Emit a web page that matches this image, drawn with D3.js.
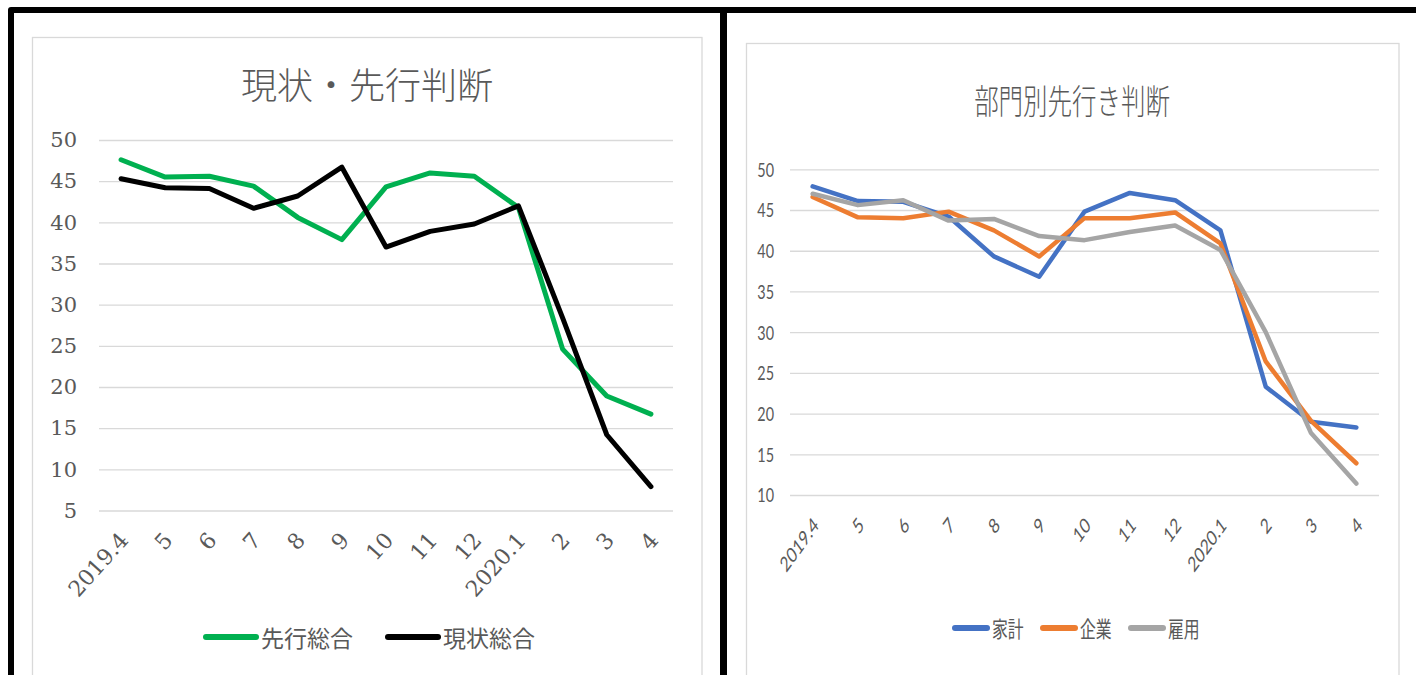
<!DOCTYPE html>
<html>
<head>
<meta charset="utf-8">
<script src="https://cdn.jsdelivr.net/npm/d3@7"></script>
<style>
  body { margin: 0; background: #fff; }
  svg { display: block; }
</style>
</head>
<body>
<svg id="chart" width="1416" height="675"></svg>
<script>
// Month labels shared by both panels
const months = ["2019.4", "5", "6", "7", "8", "9", "10", "11", "12", "2020.1", "2", "3", "4"];

// Left panel: overall diffusion indices
const leadingTotal = [47.6, 45.5, 45.6, 44.4, 40.6, 37.9, 44.3, 46.0, 45.6, 41.8, 24.6, 18.9, 16.7];
const currentTotal = [45.3, 44.2, 44.1, 41.7, 43.2, 46.7, 37.0, 38.9, 39.8, 42.0, 28.4, 14.2, 7.9];

// Right panel: outlook by sector
const household  = [47.9, 46.1, 46.0, 44.2, 39.3, 36.8, 44.8, 47.1, 46.2, 42.5, 23.3, 19.0, 18.3];
const business   = [46.6, 44.1, 44.0, 44.8, 42.5, 39.3, 44.0, 44.0, 44.7, 40.9, 26.4, 19.1, 13.9];
const employment = [47.0, 45.6, 46.2, 43.7, 43.9, 41.8, 41.3, 42.3, 43.1, 40.1, 30.0, 17.6, 11.4];

// Axis ticks
const leftTicks  = [5, 10, 15, 20, 25, 30, 35, 40, 45, 50];
const rightTicks = [10, 15, 20, 25, 30, 35, 40, 45, 50];

const svg = d3.select("#chart");
const textColor = "#595959";
const gridColor = "#D9D9D9";

// Chart-area borders
svg.append("rect").attr("x", 32.5).attr("y", 37.5).attr("width", 669.5).attr("height", 700)
  .attr("fill", "#fff").attr("stroke", gridColor).attr("stroke-width", 1.3);
svg.append("rect").attr("x", 746.5).attr("y", 43.5).attr("width", 652.5).attr("height", 700)
  .attr("fill", "#fff").attr("stroke", gridColor).attr("stroke-width", 1.3);

// ---------- Left panel ----------
{
  const x = d3.scalePoint().domain(months).range([99, 673]).padding(0.5);
  const y = d3.scaleLinear().domain([5, 50]).range([510.5, 140]);

  const g = svg.append("g");
  const yAxis = d3.axisLeft(y).tickValues(leftTicks).tickSize(-(673 - 99)).tickPadding(22);
  const ya = g.append("g").attr("transform", "translate(99,0)").call(yAxis);
  ya.select(".domain").remove();
  ya.selectAll(".tick line").attr("stroke", gridColor).attr("stroke-width", 1.3);
  ya.selectAll(".tick text").attr("fill", textColor)
    .attr("font-family", "'DejaVu Serif', 'Liberation Serif', serif").attr("font-size", 21);

  // rotated month labels
  g.selectAll(".xl").data(months).enter().append("text")
    .attr("transform", d => `translate(${x(d) + 3},536) rotate(-48)`)
    .attr("text-anchor", "end").attr("dominant-baseline", "central")
    .attr("fill", textColor)
    .attr("font-family", "'DejaVu Serif', 'Liberation Serif', serif").attr("font-size", 22)
    .text(d => d);

  const line = d3.line().x((d, i) => x(months[i])).y(d => y(d));
  const series = [
    { name: "先行総合", values: leadingTotal, color: "#00B050" },
    { name: "現状総合", values: currentTotal, color: "#000000" }
  ];
  series.forEach(s => {
    g.append("path").datum(s.values).attr("d", line)
      .attr("fill", "none").attr("stroke", s.color).attr("stroke-width", 5)
      .attr("stroke-linejoin", "round").attr("stroke-linecap", "round");
  });

  // legend
  const legendX = [203, 385];
  series.forEach((s, i) => {
    g.append("line").attr("x1", legendX[i] + 3).attr("x2", legendX[i] + 53)
      .attr("y1", 637).attr("y2", 637)
      .attr("stroke", s.color).attr("stroke-width", 6).attr("stroke-linecap", "round");
    g.append("text").attr("x", legendX[i] + 58).attr("y", 637)
      .attr("dominant-baseline", "central").attr("fill", textColor)
      .attr("font-family", "'Noto Sans CJK JP', sans-serif").attr("font-size", 23)
      .text(s.name);
  });

  // title
  g.append("text").attr("x", 367).attr("y", 83).attr("text-anchor", "middle")
    .attr("dominant-baseline", "central").attr("fill", textColor)
    .attr("font-family", "'Noto Sans CJK JP', sans-serif").attr("font-weight", 300)
    .attr("font-size", 36).text("現状・先行判断");
}

// ---------- Right panel ----------
{
  const sx = 0.72; // horizontally condensed text
  const x = d3.scalePoint().domain(months).range([790, 1379]).padding(0.5);
  const y = d3.scaleLinear().domain([10, 50]).range([495, 169.3]);

  const g = svg.append("g");
  const yAxis = d3.axisLeft(y).tickValues(rightTicks).tickSize(-(1379 - 790)).tickFormat("");
  const ya = g.append("g").attr("transform", "translate(790,0)").call(yAxis);
  ya.select(".domain").remove();
  ya.selectAll(".tick line").attr("stroke", gridColor).attr("stroke-width", 1.3);
  g.selectAll(".yl").data(rightTicks).enter().append("text")
    .attr("transform", d => `translate(774,${y(d)}) scale(${sx},1)`)
    .attr("text-anchor", "end").attr("dominant-baseline", "central")
    .attr("fill", textColor).attr("font-family", "Lato, 'Open Sans', sans-serif")
    .attr("font-size", 20).text(d => d);

  g.selectAll(".xl").data(months).enter().append("text")
    .attr("transform", d => `translate(${x(d) + 3},521) scale(${sx},1) rotate(-45)`)
    .attr("text-anchor", "end").attr("dominant-baseline", "central")
    .attr("fill", textColor).attr("font-family", "Lato, 'Open Sans', sans-serif")
    .attr("font-size", 21).text(d => d);

  const line = d3.line().x((d, i) => x(months[i])).y(d => y(d));
  const series = [
    { name: "家計", values: household, color: "#4472C4" },
    { name: "企業", values: business, color: "#ED7D31" },
    { name: "雇用", values: employment, color: "#A5A5A5" }
  ];
  series.forEach(s => {
    g.append("path").datum(s.values).attr("d", line)
      .attr("fill", "none").attr("stroke", s.color).attr("stroke-width", 4.5)
      .attr("stroke-linejoin", "round").attr("stroke-linecap", "round");
  });

  const legendX = [952, 1040, 1128];
  series.forEach((s, i) => {
    g.append("line").attr("x1", legendX[i] + 3).attr("x2", legendX[i] + 35)
      .attr("y1", 628).attr("y2", 628)
      .attr("stroke", s.color).attr("stroke-width", 6).attr("stroke-linecap", "round");
    g.append("text").attr("transform", `translate(${legendX[i] + 40},628) scale(${sx},1)`)
      .attr("dominant-baseline", "central").attr("fill", textColor)
      .attr("font-family", "'Noto Sans CJK JP', sans-serif").attr("font-size", 22)
      .text(s.name);
  });

  g.append("text").attr("transform", `translate(1072,100) scale(${sx},1)`)
    .attr("text-anchor", "middle").attr("dominant-baseline", "central")
    .attr("fill", textColor).attr("font-family", "'Noto Sans CJK JP', sans-serif")
    .attr("font-weight", 300).attr("font-size", 34).text("部門別先行き判断");
}

// Outer black frame and divider
svg.append("path").attr("d", "M11,680 L11,10 L1420,10")
  .attr("fill", "none").attr("stroke", "#000").attr("stroke-width", 6)
  .attr("stroke-linejoin", "round");
svg.append("line").attr("x1", 723.5).attr("x2", 723.5).attr("y1", 10).attr("y2", 680)
  .attr("stroke", "#000").attr("stroke-width", 7);
</script>
</body>
</html>
